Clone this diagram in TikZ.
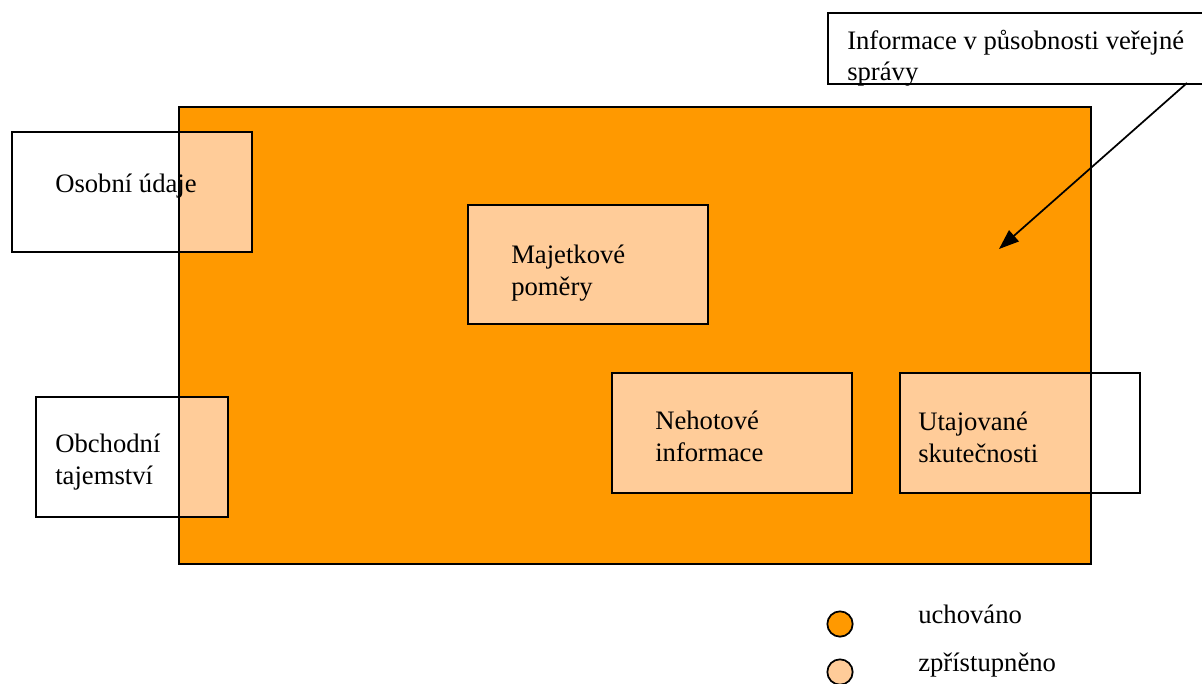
\documentclass[tikz,border=0pt]{standalone}
\usepackage{fontspec}
\setmainfont{Liberation Serif}
\usetikzlibrary{arrows.meta}
\definecolor{kept}{HTML}{FF9900}
\definecolor{shown}{HTML}{FFCC99}
\tikzset{
  frame/.style={draw=black, line width=1.3pt},
  txt/.style={anchor=north west, align=left, inner sep=0pt, font=\fontsize{20}{23.5}\selectfont},
  lgd/.style={circle, draw=black, line width=1.3pt, minimum size=19pt, inner sep=0pt},
}
\begin{document}
\begin{tikzpicture}[x=0.75pt, y=-0.75pt]
\useasboundingbox (0,0) rectangle (1202,684);

% white boxes that reach outside the main area
\fill[white] (11,131) rectangle (251,251);
\fill[white] (35,396) rectangle (227,516);
\fill[white] (899,372) rectangle (1139,492);

% main area
\fill[kept] (179,107) rectangle (1091,564);

% parts of the side boxes lying inside the main area
\fill[shown] (179,131) rectangle (251,251);
\fill[shown] (179,396) rectangle (227,516);
\fill[shown] (899,372) rectangle (1091,492);

% borders
\draw[frame] (179,107) rectangle (1091,564);
\node[frame, fill=none, minimum width=240*0.75pt, minimum height=120*0.75pt, anchor=north west] (osobni) at (11,131) {};
\node[frame, fill=none, minimum width=192*0.75pt, minimum height=120*0.75pt, anchor=north west] (obchodni) at (35,396) {};
\node[frame, fill=shown, minimum width=240*0.75pt, minimum height=119*0.75pt, anchor=north west] (majetek) at (467,204) {};
\node[frame, fill=shown, minimum width=240*0.75pt, minimum height=120*0.75pt, anchor=north west] (nehotove) at (611,372) {};
\node[frame, fill=none, minimum width=240*0.75pt, minimum height=120*0.75pt, anchor=north west] (utaj) at (899,372) {};
\node[frame, fill=white, minimum width=380*0.75pt, minimum height=71*0.75pt, anchor=north west] (verejna) at (827,12) {};

% labels
\node[txt] at (55,174) {Osobní údaje};
\node[txt] at (55,434) {Obchodní\\tajemství};
\node[txt] at (511,245) {Majetkové\\poměry};
\node[txt] at (655,411) {Nehotové\\informace};
\node[txt] at (918,412) {Utajované\\skutečnosti};
\node[txt] at (847,30) {Informace v působnosti veřejné\\správy};

% arrow into the main area
\coordinate (cil) at (999,249);
\draw[line width=1.3pt, -{Triangle[length=15pt, width=11pt]}] (1187,83) -- (cil);

% legend
\node[lgd, fill=kept] (l1) at (840,624) {};
\node[lgd, fill=shown] (l2) at (840,672) {};
\node[txt] at (918,605) {uchováno};
\node[txt] at (918,653) {zpřístupněno};
\end{tikzpicture}
\end{document}
